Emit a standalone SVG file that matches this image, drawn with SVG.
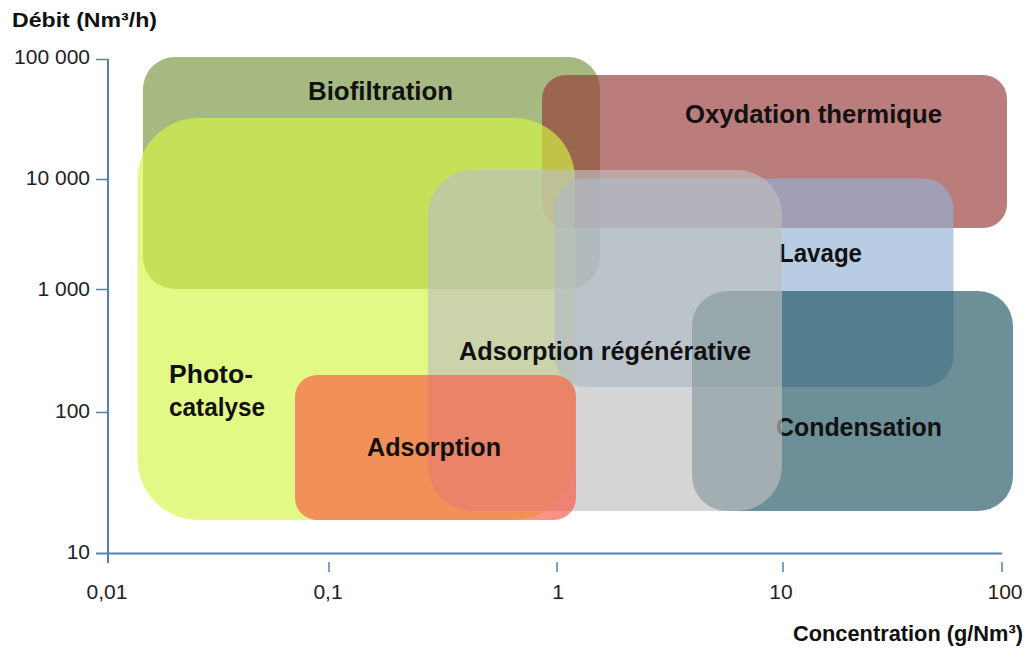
<svg xmlns="http://www.w3.org/2000/svg" width="1033" height="648" viewBox="0 0 1033 648">
<style>
.zone{fill-opacity:0.65;stroke:none}
.lbl{font-family:"Liberation Sans",Arial,sans-serif;font-weight:bold;font-size:25px;fill:#111}
.num{font-family:"Liberation Sans",Arial,sans-serif;font-size:21px;fill:#222}
.ttl{font-family:"Liberation Sans",Arial,sans-serif;font-weight:bold;fill:#111}
.ax{stroke:#4f81bd;stroke-width:2;fill:none}
.tk{stroke:#4f81bd;stroke-width:1.5;fill:none}
</style>
<rect width="1033" height="648" fill="#ffffff"/>
<g id="biofiltration">
<rect class="zone" x="143" y="57" width="457" height="232" rx="32" fill="#77933C"/>
<text class="lbl" x="308" y="100" textLength="145" lengthAdjust="spacingAndGlyphs">Biofiltration</text>
</g>
<g id="oxydation-thermique">
<rect class="zone" x="542" y="75" width="465" height="153" rx="24" fill="#953735"/>
<text class="lbl" x="685" y="123" textLength="257" lengthAdjust="spacingAndGlyphs">Oxydation thermique</text>
</g>
<g id="photocatalyse">
<rect class="zone" x="137.5" y="118" width="437.5" height="402" rx="61" fill="#D4F643"/>
<text class="lbl" x="169" y="383" textLength="84" lengthAdjust="spacingAndGlyphs">Photo-</text>
<text class="lbl" x="169" y="416" textLength="96" lengthAdjust="spacingAndGlyphs">catalyse</text>
</g>
<g id="lavage">
<rect class="zone" x="554.5" y="178.5" width="399" height="208.5" rx="31" fill="#92B2D4"/>
<text class="lbl" x="779" y="262" textLength="83" lengthAdjust="spacingAndGlyphs">Lavage</text>
</g>
<g id="condensation">
<rect class="zone" x="692" y="291" width="321" height="220" rx="35" fill="#1E5361"/>
<text class="lbl" x="776" y="436" textLength="166" lengthAdjust="spacingAndGlyphs">Condensation</text>
</g>
<g id="adsorption-regenerative">
<rect class="zone" x="428" y="170" width="354" height="341" rx="45" fill="#BFBFBF"/>
<text class="lbl" x="459" y="360" textLength="292" lengthAdjust="spacingAndGlyphs">Adsorption régénérative</text>
</g>
<g id="adsorption">
<rect class="zone" x="295" y="375" width="281" height="145" rx="22" fill="#FA5843"/>
<text class="lbl" x="367" y="456" textLength="134" lengthAdjust="spacingAndGlyphs">Adsorption</text>
</g>
<g id="axes">
<line class="ax" x1="108" y1="59" x2="108" y2="563"/>
<line class="ax" x1="96" y1="553.5" x2="1002" y2="553.5"/>
<line class="tk" x1="96" y1="59.5" x2="108" y2="59.5"/>
<line class="tk" x1="96" y1="179.5" x2="108" y2="179.5"/>
<line class="tk" x1="96" y1="289.5" x2="108" y2="289.5"/>
<line class="tk" x1="96" y1="412.5" x2="108" y2="412.5"/>
<line class="tk" x1="329" y1="562" x2="329" y2="572"/>
<line class="tk" x1="557" y1="562" x2="557" y2="572"/>
<line class="tk" x1="783" y1="562" x2="783" y2="572"/>
<line class="tk" x1="1002" y1="562" x2="1002" y2="572"/>
<text class="num" x="90" y="64" text-anchor="end">100 000</text>
<text class="num" x="90" y="185" text-anchor="end">10 000</text>
<text class="num" x="90" y="296" text-anchor="end">1 000</text>
<text class="num" x="90" y="418" text-anchor="end">100</text>
<text class="num" x="90" y="559" text-anchor="end">10</text>
<text class="num" x="107" y="599" text-anchor="middle">0,01</text>
<text class="num" x="328" y="599" text-anchor="middle">0,1</text>
<text class="num" x="558" y="599" text-anchor="middle">1</text>
<text class="num" x="781" y="599" text-anchor="middle">10</text>
<text class="num" x="1005" y="599" text-anchor="middle">100</text>
<text class="ttl" x="12" y="27" font-size="20" textLength="145" lengthAdjust="spacingAndGlyphs">Débit (Nm³/h)</text>
<text class="ttl" x="793" y="641" font-size="22" textLength="230" lengthAdjust="spacingAndGlyphs">Concentration (g/Nm³)</text>
</g>
</svg>
